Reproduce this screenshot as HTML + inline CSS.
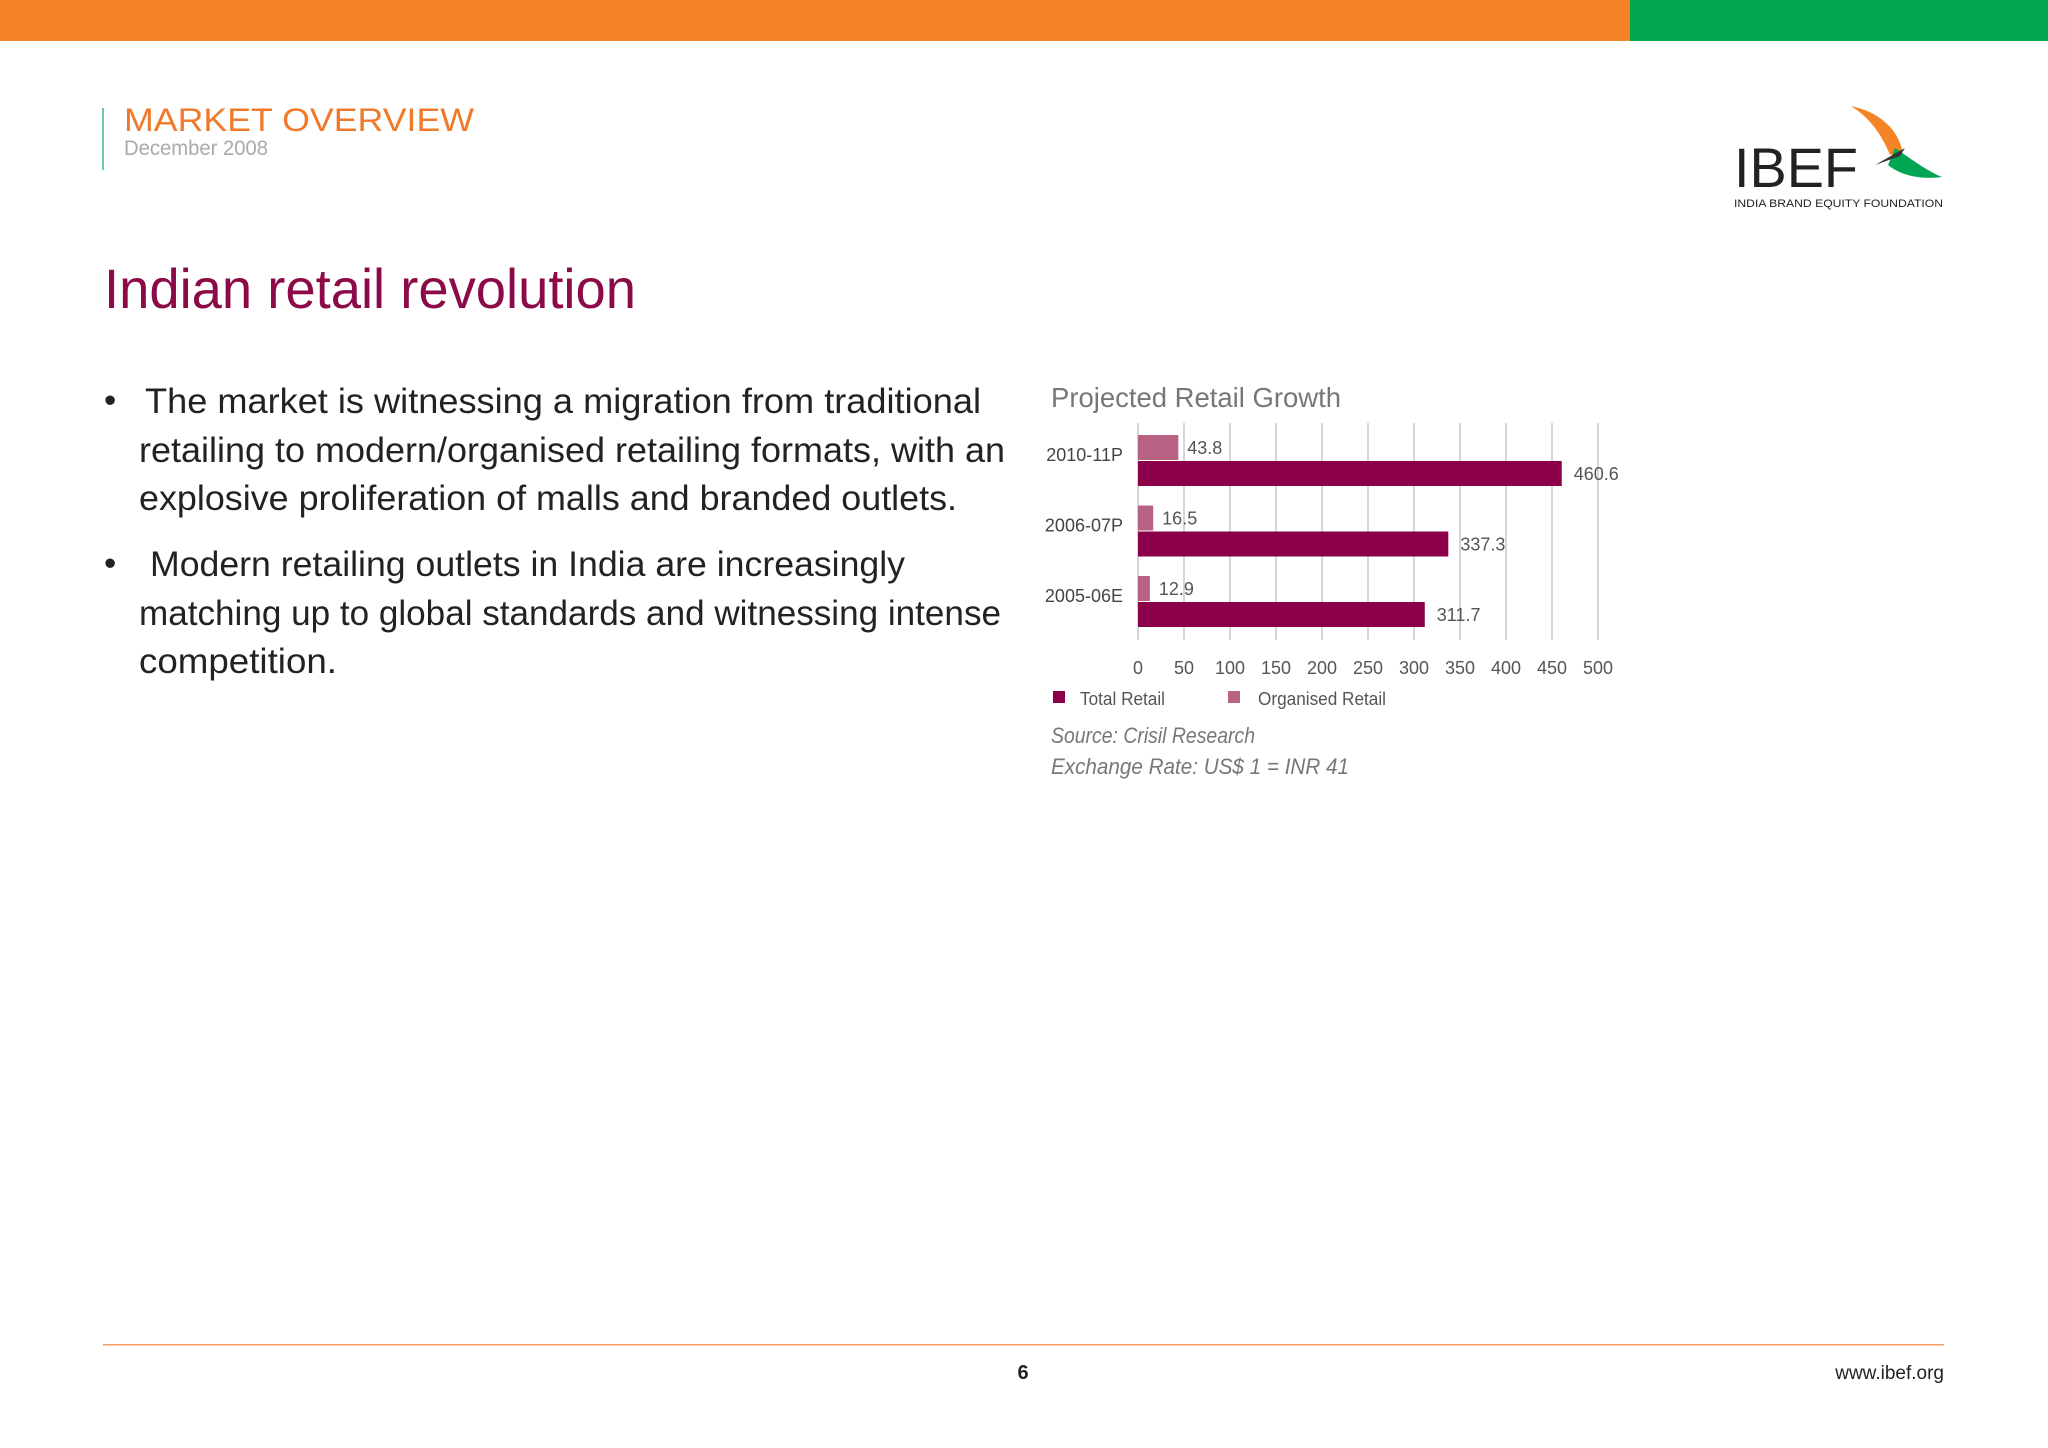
<!DOCTYPE html>
<html><head><meta charset="utf-8"><style>
html,body{margin:0;padding:0;background:#fff}
svg{display:block;font-family:"Liberation Sans",sans-serif}
</style></head><body>
<svg width="2048" height="1448" viewBox="0 0 2048 1448">
<rect x="0" y="0" width="1630" height="41" fill="#f58426"/>
<rect x="1630" y="0" width="418" height="41" fill="#00a651"/>
<rect x="102" y="108" width="2" height="62" fill="#6cc8a8"/>
<text x="124" y="131" font-size="32" fill="#f07a2a" textLength="350" lengthAdjust="spacingAndGlyphs">MARKET OVERVIEW</text>
<text x="124" y="155" font-size="21" fill="#aaa" textLength="144" lengthAdjust="spacingAndGlyphs">December 2008</text>
<g>
<text x="1734" y="187" font-size="56" fill="#222" textLength="124" lengthAdjust="spacingAndGlyphs">IBEF</text>
<path d="M1851 106 C1880 112 1898 130 1902 150 L1890 155 C1882 135 1870 118 1851 106Z" fill="#f58426"/>
<path d="M1895 148 C1910 158 1925 170 1942 177 C1920 180 1900 175 1888 165Z" fill="#00a651"/>
<path d="M1875 165 L1905 148 L1900 156 Z" fill="#333"/>
<text x="1734" y="207" font-size="11" fill="#222" textLength="209" lengthAdjust="spacingAndGlyphs">INDIA BRAND EQUITY FOUNDATION</text>
</g>
<text x="104" y="308" font-size="56" fill="#8b0a47" textLength="532" lengthAdjust="spacingAndGlyphs">Indian retail revolution</text>
<g font-size="35" fill="#222">
<text x="104" y="412">•</text>
<text x="145" y="413" textLength="836" lengthAdjust="spacingAndGlyphs">The market is witnessing a migration from traditional</text>
<text x="139" y="462" textLength="866" lengthAdjust="spacingAndGlyphs">retailing to modern/organised retailing formats, with an</text>
<text x="139" y="510" textLength="818" lengthAdjust="spacingAndGlyphs">explosive proliferation of malls and branded outlets.</text>
<text x="104" y="575">•</text>
<text x="150" y="576" textLength="755" lengthAdjust="spacingAndGlyphs">Modern retailing outlets in India are increasingly</text>
<text x="139" y="625" textLength="862" lengthAdjust="spacingAndGlyphs">matching up to global standards and witnessing intense</text>
<text x="139" y="673" textLength="198" lengthAdjust="spacingAndGlyphs">competition.</text>
</g>
<text x="1051" y="407" font-size="28" fill="#777" textLength="290" lengthAdjust="spacingAndGlyphs">Projected Retail Growth</text>
<g id="chart"></g>
<g>
<rect x="1053" y="691" width="12" height="12" fill="#8b0048"/>
<text x="1080" y="705" font-size="18" fill="#555" textLength="85" lengthAdjust="spacingAndGlyphs">Total Retail</text>
<rect x="1228" y="691" width="12" height="12" fill="#b86383"/>
<text x="1258" y="705" font-size="18" fill="#555" textLength="128" lengthAdjust="spacingAndGlyphs">Organised Retail</text>
</g>
<text x="1051" y="743" font-size="22" font-style="italic" fill="#777" textLength="204" lengthAdjust="spacingAndGlyphs">Source: Crisil Research</text>
<text x="1051" y="774" font-size="22" font-style="italic" fill="#777" textLength="298" lengthAdjust="spacingAndGlyphs">Exchange Rate: US$ 1 = INR 41</text>
<rect x="103" y="1344" width="1841" height="1.5" fill="#f5a060"/>
<text x="1023" y="1379" font-size="20" font-weight="bold" fill="#222" text-anchor="middle">6</text>
<text x="1944" y="1379" font-size="19" fill="#222" text-anchor="end">www.ibef.org</text>
</svg>
<script>
const categories = ["2010-11P", "2006-07P", "2005-06E"];
const totalRetail = [460.6, 337.3, 311.7];
const organisedRetail = [43.8, 16.5, 12.9];
const totalLabels = ["460.6", "337.3", "311.7"];
const organisedLabels = ["43.8", "16.5", "12.9"];
const ticks = [0, 50, 100, 150, 200, 250, 300, 350, 400, 450, 500];

(function () {
  const NS = "http://www.w3.org/2000/svg";
  const g = document.getElementById("chart");
  const x0 = 1138, pxPer = 0.92, gTop = 423, gBottom = 640;
  const xs = v => x0 + v * pxPer;
  const bandY = i => 435 + i * 70.5;
  function mk(tag, attrs) { const e = document.createElementNS(NS, tag); for (const k in attrs) e.setAttribute(k, attrs[k]); g.appendChild(e); return e; }

  ticks.forEach((t) => {
    const l = mk("line", {x1: xs(t), x2: xs(t), y1: gTop, y2: gBottom, stroke: "#c8c8c8", "stroke-width": 1.5});
    
    
    const tx = mk("text", {x: xs(t), y: 674, "font-size": 18, fill: "#555", "text-anchor": "middle"});
    tx.textContent = String(t);
    
    
  });
  categories.forEach((c, i) => {
    const y = bandY(i);
    const o = mk("rect", {x: xs(0), y: y, width: organisedRetail[i] * pxPer, height: 25, fill: "#b86383"});
    
    
    const t = mk("rect", {x: xs(0), y: y + 26, width: totalRetail[i] * pxPer, height: 25, fill: "#8b0048"});
    
    
    const ol = mk("text", {x: xs(organisedRetail[i]) + 9, y: y + 19, "font-size": 18, fill: "#555"});
    ol.textContent = organisedLabels[i];
    
    
    const tl = mk("text", {x: xs(totalRetail[i]) + 12, y: y + 45, "font-size": 18, fill: "#555"});
    tl.textContent = totalLabels[i];
    
    
    const cl = mk("text", {x: 1123, y: y + 26, "font-size": 18, fill: "#444", "text-anchor": "end"});
    cl.textContent = c;
    
    
  });
})();
</script>
</body></html>
